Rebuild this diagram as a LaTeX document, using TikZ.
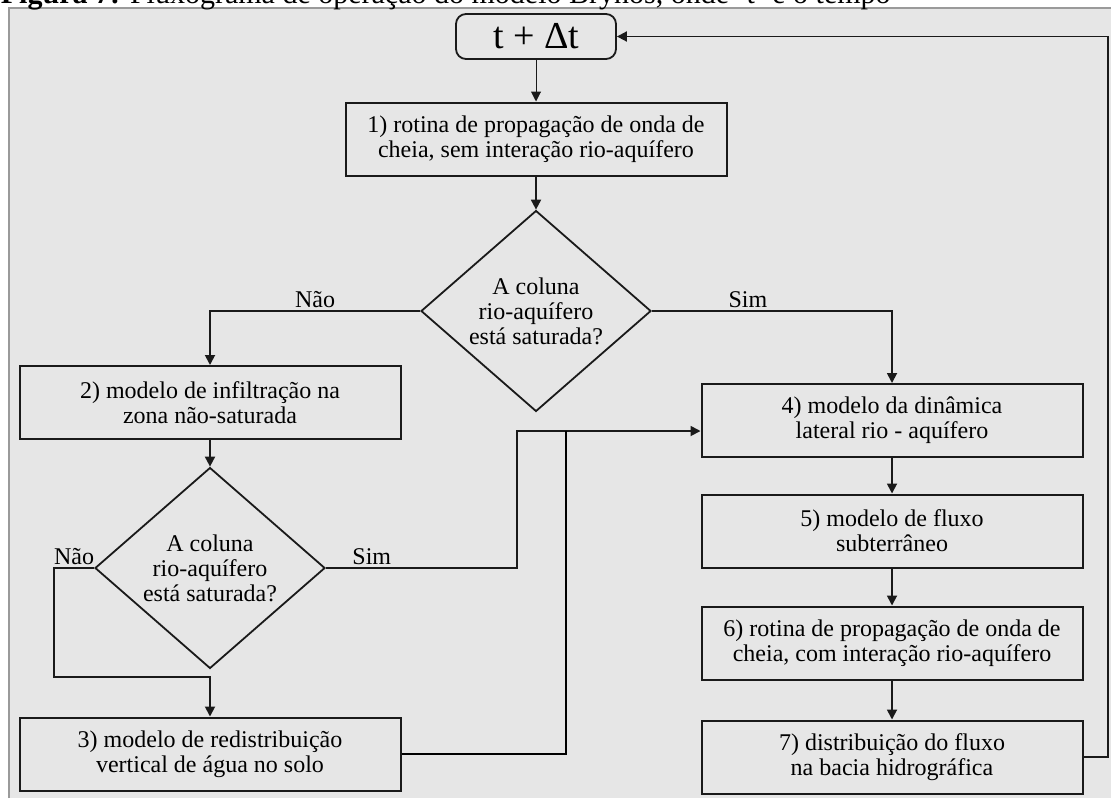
\documentclass[tikz,border=0pt]{standalone}
\usepackage{fontspec}
\setmainfont{Liberation Serif}
\usetikzlibrary{
    arrows.meta,
    shapes.geometric,
    positioning
}
\definecolor{fundo}{HTML}{E6E6E6}
\definecolor{moldura}{HTML}{9A9A9A}
\definecolor{traco}{HTML}{1A1A1A}
\tikzset{
    every picture/.style = {
        > = {Triangle[length=5pt, width=5pt]},
        line width = 0.9pt
    },
    caixa/.style = {
        draw = traco,
        line width = 1pt,
        minimum width = 190.5pt,
        minimum height = 36.5pt,
        inner sep = 1pt,
        align = center,
        font = \fontsize{12}{12.5}\selectfont
    },
    decisao/.style = {
        diamond,
        draw = traco,
        minimum width = 115pt,
        minimum height = 98pt,
        inner sep = 0pt,
        align = center,
        font = \fontsize{12}{12.5}\selectfont
    },
    inicio/.style = {
        draw = traco,
        rounded corners = 5pt,
        minimum width = 80pt,
        minimum height = 22.5pt,
        inner sep = 1pt,
        font = \fontsize{19}{21}\selectfont
    },
    rotulo/.style = {
        inner sep = 1pt,
        font = \fontsize{12}{12.5}\selectfont
    },
    seta/.style = {->, draw = traco}
}

\begin{document}
\begin{tikzpicture}[x=0.5pt, y=-0.5pt]
    \useasboundingbox (0,0) rectangle (1111,798);
    % fundo e moldura
    \fill[fundo] (9,8) rectangle (1111,798);
    \draw[moldura, line width=0.6pt] (9,798) -- (9,8) -- (1111,8);
    \node[anchor=base west, inner sep=0pt, font=\fontsize{15}{17}\selectfont] (legenda) at (0,3)
        {\textbf{Figura 7:} Fluxograma de operação do modelo Brynos, onde ‘t’ é o tempo};

    % etapas
    \node[inicio] (tempo) at (536,36.5) {t + Δt};
    \node[caixa] (b1) at (536,139) {1) rotina de propagação de onda de\\cheia, sem interação rio-aquífero};
    \node[decisao] (d1) at (536,311) {A coluna\\rio-aquífero\\está saturada?};
    \node[caixa] (b2) at (210,402.5) {2) modelo de infiltração na\\zona não-saturada};
    \node[decisao] (d2) at (210,568) {A coluna\\rio-aquífero\\está saturada?};
    \node[caixa] (b3) at (210,754) {3) modelo de redistribuição\\vertical de água no solo};
    \node[caixa] (b4) at (892,420.5) {4) modelo da dinâmica\\lateral rio - aquífero};
    \node[caixa] (b5) at (892,531) {5) modelo de fluxo\\subterrâneo};
    \node[caixa] (b6) at (892,643) {6) rotina de propagação de onda de\\cheia, com interação rio-aquífero};
    \node[caixa] (b7) at (892,757) {7) distribuição do fluxo\\na bacia hidrográfica};

    % cantos das ligacoes
    \coordinate (naocanto) at (54,677);
    \coordinate (simcanto) at (517,431);
    \coordinate (solocanto) at (566,431);
    \coordinate (retorno) at (1108,36.5);

    % ligacoes
    \draw[seta, line width=0.5pt] (tempo) -- (b1);
    \draw[seta] (b1) -- (d1);
    \draw[seta] (d1.west) -| node[rotulo, above, pos=0.25] {Não} (b2.north);
    \draw[seta] (d1.east) -| node[rotulo, above, pos=0.2] {Sim} (b4.north);
    \draw[seta] (b2) -- (d2);
    \draw[seta] (d2.west) -| node[rotulo, above, pos=0.25] {Não} (naocanto) -| (b3.north);
    \draw[seta] (d2.east) -| node[rotulo, above, pos=0.12] {Sim} (simcanto) -- (simcanto -| b4.west);
    \draw (b3.east) -| (solocanto);
    \foreach \a/\b in {b4/b5, b5/b6, b6/b7} {
        \draw[seta] (\a) -- (\b);
    }
    \draw[seta] (b7.east) -| (retorno) -- (tempo.east);
\end{tikzpicture}
\end{document}
